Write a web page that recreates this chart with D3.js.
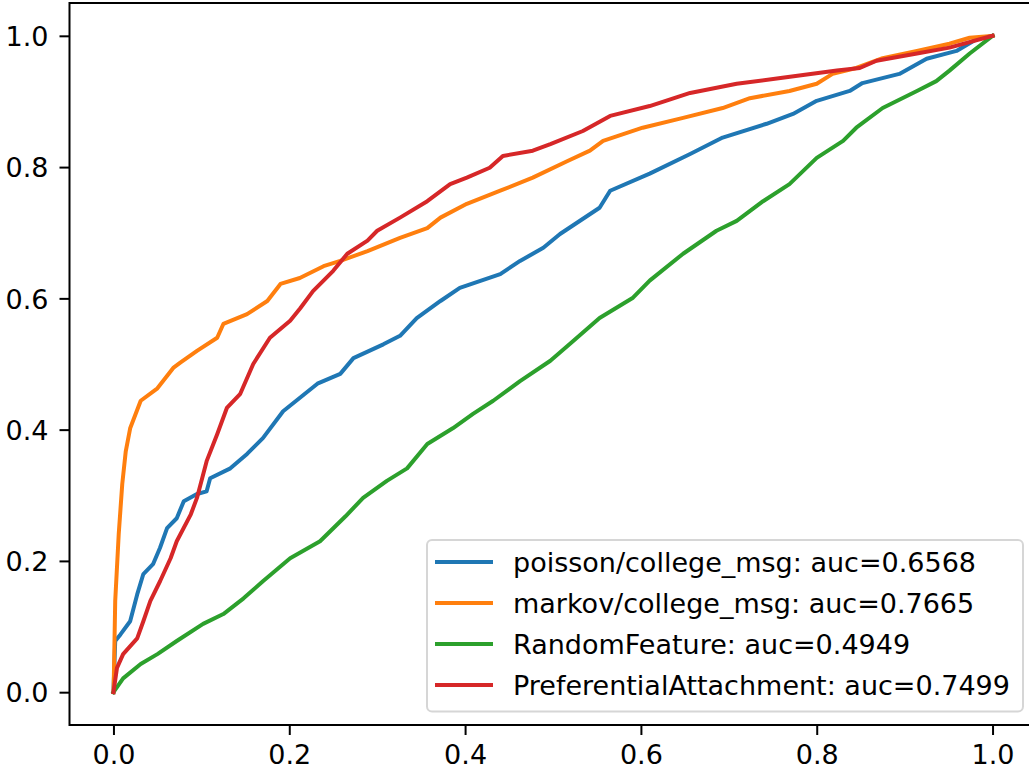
<!DOCTYPE html>
<html>
<head>
<meta charset="utf-8">
<script src="https://cdn.jsdelivr.net/npm/d3@7"></script>
<style>
  html, body { margin: 0; padding: 0; background: #fff; }
  svg { display: block; }
  text { font-family: "DejaVu Sans", sans-serif; }
</style>
</head>
<body>
<svg id="chart" width="1029" height="770"></svg>
<script>
// ---- data ----
const seriesNames = [
  "poisson/college_msg: auc=0.6568",
  "markov/college_msg: auc=0.7665",
  "RandomFeature: auc=0.4949",
  "PreferentialAttachment: auc=0.7499"
];
const seriesColors = ["#1f77b4", "#ff7f0e", "#2ca02c", "#d62728"];

const poissonFpr = [0, 0.002, 0.008, 0.019, 0.027, 0.034, 0.045, 0.053, 0.061, 0.072, 0.080, 0.095, 0.106, 0.110, 0.133, 0.152, 0.170, 0.193, 0.232, 0.258, 0.273, 0.307, 0.326, 0.345, 0.372, 0.394, 0.440, 0.4625, 0.489, 0.508, 0.553, 0.565, 0.610, 0.656, 0.693, 0.743, 0.773, 0.800, 0.8375, 0.852, 0.894, 0.925, 0.959, 0.982, 1];
const poissonTpr = [0, 0.078, 0.088, 0.108, 0.149, 0.180, 0.195, 0.220, 0.250, 0.265, 0.291, 0.302, 0.306, 0.326, 0.341, 0.363, 0.387, 0.428, 0.470, 0.485, 0.509, 0.530, 0.543, 0.570, 0.596, 0.616, 0.637, 0.657, 0.677, 0.698, 0.738, 0.764, 0.790, 0.820, 0.845, 0.866, 0.881, 0.901, 0.916, 0.928, 0.942, 0.965, 0.977, 0.995, 1];

const markovFpr = [0, 0.0003, 0.002, 0.006, 0.010, 0.014, 0.019, 0.031, 0.050, 0.068, 0.076, 0.095, 0.118, 0.125, 0.152, 0.175, 0.190, 0.212, 0.239, 0.258, 0.289, 0.326, 0.357, 0.372, 0.402, 0.440, 0.477, 0.516, 0.542, 0.557, 0.602, 0.648, 0.693, 0.724, 0.769, 0.800, 0.818, 0.845, 0.875, 0.914, 0.951, 0.974, 1];
const markovTpr = [0, 0.012, 0.139, 0.241, 0.317, 0.367, 0.402, 0.444, 0.463, 0.494, 0.502, 0.520, 0.540, 0.561, 0.576, 0.596, 0.622, 0.631, 0.649, 0.657, 0.672, 0.692, 0.707, 0.723, 0.744, 0.764, 0.784, 0.809, 0.825, 0.840, 0.860, 0.875, 0.890, 0.905, 0.916, 0.927, 0.942, 0.951, 0.966, 0.977, 0.988, 0.997, 1];

const randomFpr = [0, 0.011, 0.031, 0.050, 0.072, 0.102, 0.125, 0.148, 0.170, 0.201, 0.235, 0.264, 0.284, 0.311, 0.334, 0.357, 0.386, 0.409, 0.432, 0.4625, 0.497, 0.523, 0.553, 0.591, 0.610, 0.648, 0.686, 0.709, 0.739, 0.769, 0.800, 0.830, 0.845, 0.875, 0.914, 0.936, 0.951, 0.974, 1];
const randomTpr = [0, 0.021, 0.043, 0.058, 0.078, 0.104, 0.119, 0.143, 0.169, 0.204, 0.230, 0.268, 0.296, 0.322, 0.341, 0.378, 0.402, 0.424, 0.444, 0.474, 0.505, 0.535, 0.570, 0.601, 0.627, 0.668, 0.703, 0.718, 0.748, 0.774, 0.814, 0.840, 0.860, 0.890, 0.916, 0.931, 0.947, 0.973, 1];

const prefFpr = [0, 0.004, 0.011, 0.027, 0.034, 0.042, 0.053, 0.065, 0.072, 0.088, 0.095, 0.106, 0.118, 0.129, 0.144, 0.159, 0.178, 0.201, 0.2125, 0.227, 0.250, 0.266, 0.289, 0.300, 0.326, 0.357, 0.383, 0.402, 0.428, 0.443, 0.477, 0.497, 0.534, 0.565, 0.610, 0.656, 0.709, 0.761, 0.823, 0.849, 0.868, 0.914, 0.951, 1];
const prefTpr = [0, 0.037, 0.058, 0.082, 0.108, 0.139, 0.169, 0.204, 0.230, 0.271, 0.296, 0.352, 0.393, 0.433, 0.454, 0.500, 0.540, 0.566, 0.585, 0.611, 0.642, 0.668, 0.688, 0.703, 0.723, 0.748, 0.774, 0.784, 0.799, 0.817, 0.825, 0.835, 0.855, 0.878, 0.893, 0.913, 0.927, 0.936, 0.947, 0.951, 0.962, 0.973, 0.982, 1];

const xTickValues = [0, 0.2, 0.4, 0.6, 0.8, 1.0];
const yTickValues = [0, 0.2, 0.4, 0.6, 0.8, 1.0];
const xDomain = [-0.05, 1.05];
const yDomain = [-0.05, 1.05];

// ---- layout ----
const W = 1029, H = 770;
const plot = { left: 69.5, right: 1036.5, top: 3, bottom: 725 };
const FONT = 27;

const svg = d3.select("#chart");

const x = d3.scaleLinear().domain(xDomain).range([plot.left, plot.right]);
const y = d3.scaleLinear().domain(yDomain).range([plot.bottom, plot.top]);

svg.append("defs").append("clipPath").attr("id", "clip")
  .append("rect")
  .attr("x", plot.left).attr("y", plot.top)
  .attr("width", plot.right - plot.left).attr("height", plot.bottom - plot.top);

const series = [
  { fpr: poissonFpr, tpr: poissonTpr },
  { fpr: markovFpr, tpr: markovTpr },
  { fpr: randomFpr, tpr: randomTpr },
  { fpr: prefFpr, tpr: prefTpr }
];

const line = d3.line().x(d => x(d[0])).y(d => y(d[1]));

const gLines = svg.append("g").attr("clip-path", "url(#clip)");
series.forEach((s, i) => {
  const pts = s.fpr.map((v, j) => [v, s.tpr[j]]);
  gLines.append("path")
    .datum(pts)
    .attr("d", line)
    .attr("fill", "none")
    .attr("stroke", seriesColors[i])
    .attr("stroke-width", 4)
    .attr("stroke-linejoin", "round")
    .attr("stroke-linecap", "square");
});

// ---- axes ----
const fmt = d3.format(".1f");
const xAxis = d3.axisBottom(x).tickValues(xTickValues).tickFormat(fmt).tickSize(10).tickPadding(9);
const yAxis = d3.axisLeft(y).tickValues(yTickValues).tickFormat(fmt).tickSize(10).tickPadding(11);

const gx = svg.append("g").attr("transform", `translate(0,${plot.bottom})`).call(xAxis);
const gy = svg.append("g").attr("transform", `translate(${plot.left},0)`).call(yAxis);

[gx, gy].forEach(g => {
  g.select(".domain").remove();
  g.selectAll(".tick line").attr("stroke", "#000").attr("stroke-width", 2);
  g.selectAll(".tick text")
    .attr("fill", "#000")
    .style("font-size", FONT + "px")
    .style("font-family", "'DejaVu Sans', sans-serif");
});
gx.selectAll(".tick text").attr("dy", "0.73em");
gy.selectAll(".tick text").attr("dy", "0.36em");

// spines
svg.append("rect")
  .attr("x", plot.left).attr("y", plot.top)
  .attr("width", plot.right - plot.left).attr("height", plot.bottom - plot.top)
  .attr("fill", "none").attr("stroke", "#000").attr("stroke-width", 2);

// ---- legend ----
const leg = { left: 427, top: 540, right: 1023, bottom: 711.5 };
const legG = svg.append("g");
legG.append("rect")
  .attr("x", leg.left).attr("y", leg.top)
  .attr("width", leg.right - leg.left).attr("height", leg.bottom - leg.top)
  .attr("rx", 5).attr("ry", 5)
  .attr("fill", "rgba(255,255,255,0.8)")
  .attr("stroke", "#d6d6d6").attr("stroke-width", 2);

const rowY = d3.scaleLinear().domain([0, 3]).range([562, 685]);
seriesNames.forEach((name, i) => {
  const yy = rowY(i);
  legG.append("line")
    .attr("x1", 435).attr("x2", 493)
    .attr("y1", yy).attr("y2", yy)
    .attr("stroke", seriesColors[i]).attr("stroke-width", 4);
  legG.append("text")
    .attr("x", 513).attr("y", yy + 10)
    .attr("fill", "#000")
    .style("font-size", FONT + "px")
    .text(name);
});
</script>
</body>
</html>
